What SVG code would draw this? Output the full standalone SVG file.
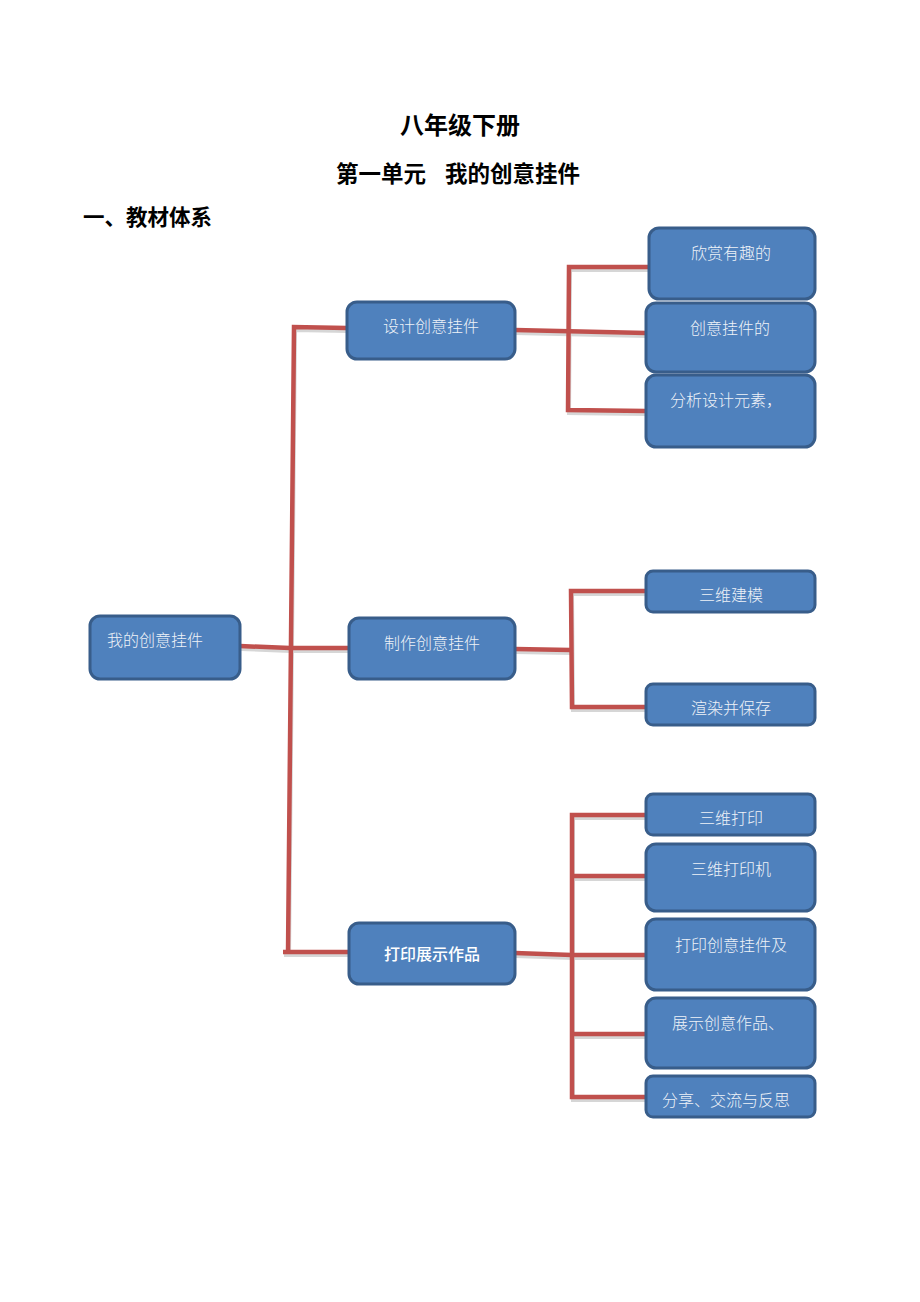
<svg xmlns="http://www.w3.org/2000/svg" width="920" height="1302" viewBox="0 0 920 1302">
<style>
.h{font-family:"Liberation Sans","Noto Sans CJK SC",sans-serif;font-weight:bold;fill:#000}
.box{fill:#4F81BD;stroke:#385D8A;stroke-width:3}
.t{font-family:"Noto Sans CJK SC",sans-serif;font-weight:300;font-size:16px;fill:#EEF2F8;text-anchor:middle}
.tb{font-family:"Noto Sans CJK SC",sans-serif;font-weight:500;font-size:16px;fill:#FFFFFF;text-anchor:middle}
.ln{fill:none;stroke:#C0504D;stroke-width:4.5}
.sh{fill:none;stroke:#BBBBBB;stroke-width:4;opacity:0.6}
</style>
<rect width="920" height="1302" fill="#fff"/>
<text class="h" x="460" y="134" font-size="24" text-anchor="middle">八年级下册</text>
<text class="h" x="336" y="182" font-size="22.5">第一单元</text>
<text class="h" x="445" y="182" font-size="22.5">我的创意挂件</text>
<text class="h" x="83" y="225" font-size="21.5">一、教材体系</text>

<defs>
<g id="wires">
<path d="M240,646 L290,648 L349,648"/>
<path d="M347,328 L294,327 L288,953"/>
<path d="M283,952 L349,952"/>
<path d="M515,330 L646,333"/>
<path d="M649,267 L569,267 L568,410 L646,411"/>
<path d="M515,649 L571,650"/>
<path d="M646,591 L571,591 L572,707 L646,707"/>
<path d="M515,953 L572,955"/>
<path d="M646,815 L572,815 L572,1097 L646,1097"/>
<path d="M572,876 L646,876"/>
<path d="M572,955 L646,955"/>
<path d="M572,1034 L646,1034"/>
</g>
</defs>
<g id="connectors">
<use href="#wires" class="sh" transform="translate(1,3)"/>
<use href="#wires" class="ln"/>
</g>

<g id="root"><rect class="box" x="90" y="616" width="150" height="63" rx="10"/><text class="t" x="155" y="646">我的创意挂件</text></g>

<g id="n-design"><rect class="box" x="347" y="302" width="168" height="57" rx="10"/><text class="t" x="431" y="332">设计创意挂件</text></g>
<g id="n-make"><rect class="box" x="349" y="618" width="166" height="61" rx="10"/><text class="t" x="432" y="649">制作创意挂件</text></g>
<g id="n-print"><rect class="box" x="349" y="923" width="166" height="61" rx="10"/><text class="tb" x="432" y="960">打印展示作品</text></g>

<g id="n-a1"><rect class="box" x="649" y="228" width="166" height="71" rx="10"/><text class="t" x="731" y="259">欣赏有趣的</text></g>
<g id="n-a2"><rect class="box" x="646" y="303" width="169" height="69" rx="10"/><text class="t" x="730" y="334">创意挂件的</text></g>
<g id="n-a3"><rect class="box" x="646" y="375" width="169" height="72" rx="10"/><text class="t" x="726" y="406">分析设计元素，</text></g>

<g id="n-b1"><rect class="box" x="646" y="571" width="169" height="41" rx="7"/><text class="t" x="731" y="601">三维建模</text></g>
<g id="n-b2"><rect class="box" x="646" y="684" width="169" height="41" rx="7"/><text class="t" x="731" y="714">渲染并保存</text></g>

<g id="n-c1"><rect class="box" x="646" y="794" width="169" height="41" rx="7"/><text class="t" x="731" y="824">三维打印</text></g>
<g id="n-c2"><rect class="box" x="646" y="844" width="169" height="67" rx="10"/><text class="t" x="731" y="875">三维打印机</text></g>
<g id="n-c3"><rect class="box" x="646" y="919" width="169" height="71" rx="10"/><text class="t" x="731" y="951">打印创意挂件及</text></g>
<g id="n-c4"><rect class="box" x="646" y="998" width="169" height="70" rx="10"/><text class="t" x="728" y="1029">展示创意作品、</text></g>
<g id="n-c5"><rect class="box" x="646" y="1076" width="169" height="41" rx="7"/><text class="t" x="726" y="1106">分享、交流与反思</text></g>
</svg>
